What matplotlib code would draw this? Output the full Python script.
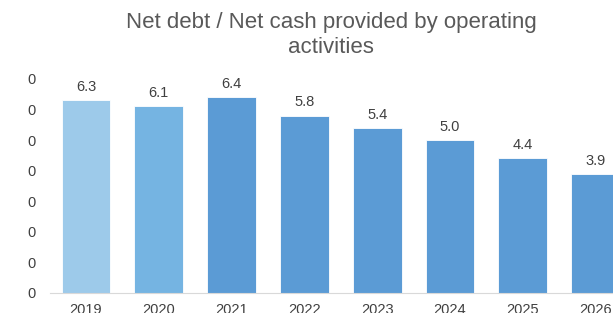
import matplotlib.pyplot as plt

years = ["2019", "2020", "2021", "2022", "2023", "2024", "2025", "2026"]
ratio = [6.3, 6.1, 6.4, 5.8, 5.4, 5.0, 4.4, 3.9]
bar_colors = ["#9DCAEA", "#75B4E2", "#5B9BD5", "#5B9BD5", "#5B9BD5", "#5B9BD5", "#5B9BD5", "#5B9BD5"]
y_ticks = [0, 1, 2, 3, 4, 5, 6, 7]
y_tick_labels = ["0"] * 8

plt.rcParams['font.family'] = ['Liberation Sans', 'DejaVu Sans']

fig = plt.figure(figsize=(6.13, 3.13), dpi=100)
# axes runs past the right edge so the last bar is cut like in the original
ax = fig.add_axes([49.6 / 613, 20 / 313, 582.4 / 613, 214.2 / 313])

x = range(len(years))
ax.bar(x, ratio, width=0.67, color=bar_colors, edgecolor="white", linewidth=0.6)
for i, v in enumerate(ratio):
    ax.text(i, v + 0.2, f"{v:.1f}", ha="center", va="bottom", fontsize=10.5, color="#404040")

ax.set_xlim(-0.5, len(years) - 0.5)
ax.set_ylim(0, 7)
ax.set_xticks(list(x))
ax.set_xticklabels(years, fontsize=10.5, color="#404040")
ax.set_yticks(y_ticks)
ax.set_yticklabels(y_tick_labels, fontsize=10.5, color="#404040")
ax.tick_params(length=0, pad=10)
ax.tick_params(axis="x", pad=7)
for s in ["top", "right", "left"]:
    ax.spines[s].set_visible(False)
ax.spines["bottom"].set_color("#D9D9D9")

fig.text(331 / 613, 1 - 35 / 313, "Net debt / Net cash provided by operating\nactivities",
         ha="center", va="center", fontsize=16, color="#595959", linespacing=1.2)

fig.savefig("out.png", dpi=100)
